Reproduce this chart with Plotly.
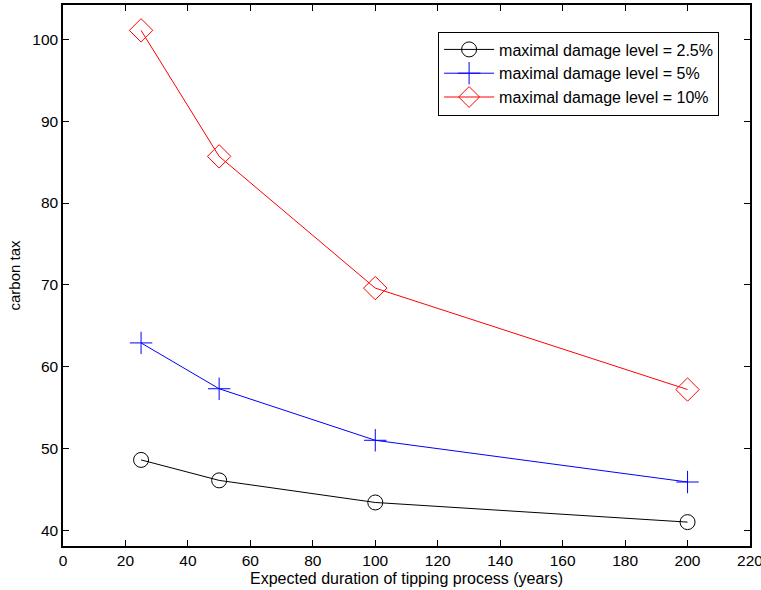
import plotly.graph_objects as go

x_vals = [25, 50, 100, 200]
tax_2_5 = [48.6, 46.1, 43.4, 41.0]
tax_5 = [62.9, 57.3, 51.0, 45.9]
tax_10 = [101.1, 85.7, 69.6, 57.2]
names = ["maximal damage level = 2.5%", "maximal damage level = 5%", "maximal damage level = 10%"]

FONT = "Liberation Sans, Arial"

fig = go.Figure()
fig.add_trace(go.Scatter(x=x_vals, y=tax_2_5, mode="lines+markers", name=names[0],
                         line=dict(color="black", width=1),
                         marker=dict(symbol="circle-open", size=15, color="black", line=dict(width=1))))
fig.add_trace(go.Scatter(x=x_vals, y=tax_5, mode="lines+markers", name=names[1],
                         line=dict(color="blue", width=1),
                         marker=dict(symbol="cross-thin-open", size=16, color="blue", line=dict(width=1, color="blue"))))
fig.add_trace(go.Scatter(x=x_vals, y=tax_10, mode="lines+markers", name=names[2],
                         line=dict(color="red", width=1),
                         marker=dict(symbol="diamond-open", size=18, color="red", line=dict(width=1))))

axis_common = dict(showgrid=False, zeroline=False, showline=True, linecolor="black", linewidth=1.5,
                   mirror="ticks", ticks="inside", ticklen=6, tickcolor="black",
                   ticklabeloverflow="allow", automargin=False,
                   tickfont=dict(family=FONT, size=15.5, color="black"))
fig.update_xaxes(range=[0, 220], dtick=20, tick0=0,
                 title=dict(text="Expected duration of tipping process (years)", standoff=4,
                            font=dict(family=FONT, size=16, color="black")),
                 **axis_common)
fig.update_yaxes(range=[38.08, 104.2], dtick=10, tick0=40,
                 title=dict(text="carbon tax", standoff=8,
                            font=dict(family=FONT, size=15, color="black")),
                 **axis_common)
fig.update_layout(
    width=761, height=590,
    margin=dict(l=63, r=11, t=5, b=44),
    plot_bgcolor="white", paper_bgcolor="white",
    font=dict(family=FONT, size=15.5, color="black"),
    legend=dict(x=0.546, y=0.951, xanchor="left", yanchor="top",
                bgcolor="white", bordercolor="black", borderwidth=1,
                font=dict(size=16), tracegroupgap=0, itemwidth=50),
)
fig.write_html("out.html")
